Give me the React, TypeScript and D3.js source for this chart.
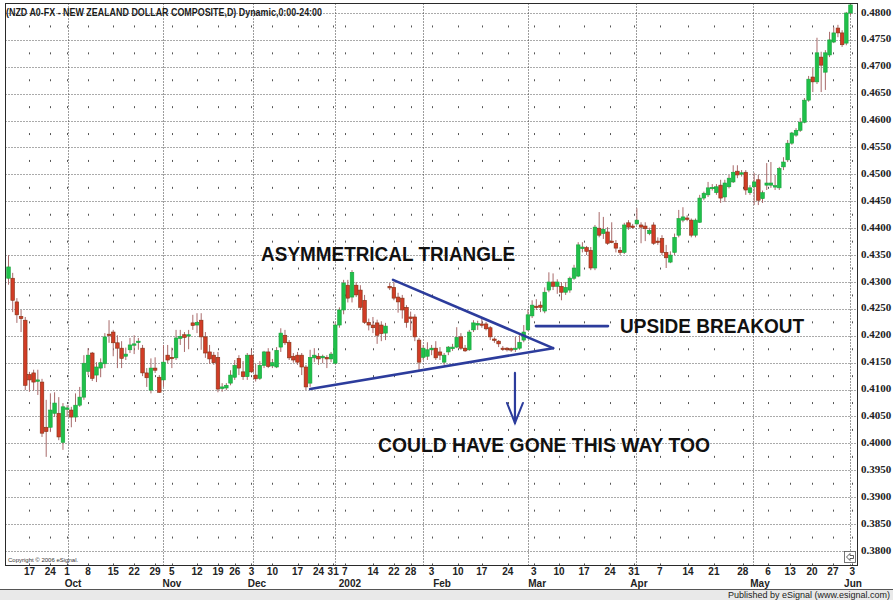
import React from "react";
import * as d3 from "d3";

const W = 893;
const H = 600;
const plot = { left: 5.5, right: 857.5, top: 3.5, bottom: 565.5 };

const chartTitle = "(NZD A0-FX - NEW ZEALAND DOLLAR COMPOSITE,D) Dynamic,0:00-24:00";

// daily bars: [open, high, low, close]
const bars: [number, number, number, number][] = [
  [0.4307, 0.435, 0.4295, 0.4328], [0.4307, 0.4317, 0.4244, 0.4266], [0.4263, 0.427, 0.4224, 0.4239],
  [0.4236, 0.4248, 0.4207, 0.4232], [0.4229, 0.4235, 0.4099, 0.4108], [0.4128, 0.4133, 0.4096, 0.4118],
  [0.4131, 0.4137, 0.4098, 0.4114], [0.4116, 0.4137, 0.409, 0.4118], [0.4114, 0.412, 0.4012, 0.4019],
  [0.403, 0.4081, 0.3975, 0.4022], [0.403, 0.4093, 0.4021, 0.4062], [0.4056, 0.4095, 0.4049, 0.4075],
  [0.4056, 0.4086, 0.4006, 0.4012], [0.4002, 0.4075, 0.3988, 0.4068], [0.4064, 0.4071, 0.4049, 0.4066],
  [0.4062, 0.4068, 0.403, 0.4049], [0.4049, 0.4093, 0.404, 0.4071], [0.4071, 0.4105, 0.4068, 0.4086],
  [0.4086, 0.4164, 0.4081, 0.4149], [0.4134, 0.4177, 0.4127, 0.4164], [0.4168, 0.417, 0.4116, 0.4121],
  [0.4127, 0.4151, 0.4114, 0.4142], [0.414, 0.4158, 0.4123, 0.415], [0.4148, 0.4205, 0.414, 0.4198],
  [0.4203, 0.4229, 0.4187, 0.4201], [0.4207, 0.4211, 0.4162, 0.4187], [0.4187, 0.4201, 0.414, 0.4177],
  [0.4177, 0.419, 0.414, 0.4158], [0.4162, 0.4178, 0.4155, 0.4166], [0.4174, 0.4196, 0.4168, 0.4183],
  [0.4183, 0.4201, 0.4166, 0.4185], [0.4188, 0.4196, 0.4174, 0.419], [0.4177, 0.4183, 0.4125, 0.4131],
  [0.4131, 0.414, 0.4105, 0.4122], [0.4099, 0.4158, 0.4093, 0.414], [0.414, 0.416, 0.4131, 0.4136],
  [0.4123, 0.4127, 0.4094, 0.4095], [0.4118, 0.4183, 0.4105, 0.4151], [0.4164, 0.4183, 0.4149, 0.4155],
  [0.416, 0.4178, 0.414, 0.4158], [0.4159, 0.4211, 0.4155, 0.4196], [0.4195, 0.4211, 0.4183, 0.4199],
  [0.4202, 0.4207, 0.417, 0.4197], [0.42, 0.4211, 0.4175, 0.4202], [0.4224, 0.4239, 0.4211, 0.4219],
  [0.422, 0.4242, 0.4205, 0.4225], [0.4229, 0.4242, 0.4174, 0.4198], [0.4198, 0.4207, 0.4159, 0.4168],
  [0.417, 0.4183, 0.4148, 0.4157], [0.4164, 0.417, 0.4146, 0.415], [0.416, 0.417, 0.4095, 0.4101],
  [0.4102, 0.4112, 0.4096, 0.4105], [0.4103, 0.4112, 0.4099, 0.4108], [0.4112, 0.4136, 0.4108, 0.4127],
  [0.4123, 0.4155, 0.4118, 0.4145], [0.4158, 0.4164, 0.4127, 0.414], [0.4133, 0.4153, 0.4118, 0.4124],
  [0.4124, 0.4168, 0.4118, 0.4164], [0.4164, 0.4174, 0.4131, 0.4133], [0.4127, 0.4148, 0.4115, 0.412],
  [0.4121, 0.4153, 0.4118, 0.4145], [0.4145, 0.4172, 0.414, 0.417], [0.417, 0.4177, 0.414, 0.4143],
  [0.4144, 0.4157, 0.414, 0.415], [0.4142, 0.4179, 0.414, 0.4173], [0.4179, 0.4214, 0.417, 0.4205],
  [0.4201, 0.4211, 0.4183, 0.4187], [0.4188, 0.4192, 0.4155, 0.4159], [0.4162, 0.4168, 0.415, 0.4155],
  [0.4164, 0.417, 0.4146, 0.4151], [0.4164, 0.4168, 0.4127, 0.4142], [0.4142, 0.4146, 0.4099, 0.4105],
  [0.4112, 0.4174, 0.4105, 0.416], [0.4159, 0.4177, 0.4151, 0.4164], [0.4162, 0.4168, 0.4146, 0.4157],
  [0.4159, 0.4165, 0.4149, 0.4162], [0.416, 0.4164, 0.414, 0.4157], [0.4157, 0.417, 0.4151, 0.4166],
  [0.4149, 0.4225, 0.4147, 0.422], [0.422, 0.4253, 0.4215, 0.4248], [0.4248, 0.4304, 0.424, 0.4298],
  [0.4294, 0.4304, 0.4262, 0.427], [0.4272, 0.4322, 0.4262, 0.4318], [0.4294, 0.43, 0.4272, 0.4276],
  [0.4285, 0.4294, 0.4248, 0.4253], [0.4266, 0.4276, 0.4222, 0.4225], [0.4225, 0.4232, 0.421, 0.422],
  [0.422, 0.4235, 0.4205, 0.4215], [0.4224, 0.423, 0.4185, 0.4201], [0.422, 0.4227, 0.419, 0.4204],
  [0.4205, 0.4224, 0.4192, 0.4218], [0.4292, 0.4298, 0.4285, 0.4289], [0.429, 0.43, 0.4266, 0.427],
  [0.4272, 0.428, 0.4243, 0.4263], [0.427, 0.4276, 0.4232, 0.4248], [0.4253, 0.4257, 0.4215, 0.4225],
  [0.4235, 0.4245, 0.421, 0.4232], [0.4235, 0.424, 0.419, 0.4198], [0.4192, 0.4196, 0.4136, 0.4151],
  [0.416, 0.4183, 0.4155, 0.4177], [0.4162, 0.4188, 0.4155, 0.4174], [0.4174, 0.4183, 0.4164, 0.4177],
  [0.4177, 0.419, 0.4155, 0.4159], [0.417, 0.4179, 0.4155, 0.4164], [0.4151, 0.4168, 0.4146, 0.4164],
  [0.417, 0.4181, 0.4164, 0.4179], [0.4176, 0.4185, 0.4172, 0.4179], [0.4179, 0.4216, 0.4177, 0.4197],
  [0.4198, 0.4205, 0.4174, 0.4177], [0.4177, 0.4183, 0.417, 0.4172], [0.4174, 0.4211, 0.4172, 0.4207],
  [0.4211, 0.4229, 0.4207, 0.4224], [0.422, 0.4228, 0.4211, 0.4223], [0.4222, 0.4233, 0.4215, 0.422],
  [0.4222, 0.4226, 0.421, 0.4213], [0.4215, 0.4218, 0.4192, 0.4198], [0.4194, 0.4197, 0.4187, 0.4192],
  [0.419, 0.4192, 0.4179, 0.4185], [0.4177, 0.4181, 0.4172, 0.4175], [0.4177, 0.4179, 0.4171, 0.4174],
  [0.4176, 0.4178, 0.417, 0.4174], [0.4176, 0.4198, 0.417, 0.4177], [0.4177, 0.4201, 0.4174, 0.4188],
  [0.4192, 0.422, 0.4188, 0.4207], [0.4211, 0.4248, 0.4209, 0.4239], [0.4237, 0.4266, 0.4233, 0.4257],
  [0.4255, 0.4268, 0.4248, 0.4254], [0.4257, 0.4264, 0.4244, 0.4253], [0.4246, 0.429, 0.4242, 0.4281],
  [0.4285, 0.4318, 0.4281, 0.43], [0.43, 0.4316, 0.4285, 0.4292], [0.4292, 0.4305, 0.4278, 0.43],
  [0.4292, 0.43, 0.4266, 0.4281], [0.4281, 0.43, 0.4276, 0.429], [0.4285, 0.431, 0.428, 0.4307],
  [0.4307, 0.4332, 0.4304, 0.4326], [0.4311, 0.4374, 0.4309, 0.4369], [0.4362, 0.4374, 0.4355, 0.4365],
  [0.4364, 0.4367, 0.435, 0.4357], [0.4359, 0.4365, 0.4322, 0.4326], [0.4326, 0.4406, 0.4322, 0.4402],
  [0.44, 0.443, 0.4383, 0.4387], [0.439, 0.4421, 0.438, 0.4398], [0.4393, 0.4402, 0.4369, 0.4372],
  [0.4376, 0.4411, 0.4372, 0.4374], [0.4372, 0.4378, 0.4355, 0.4363], [0.4359, 0.4365, 0.435, 0.4355],
  [0.4355, 0.441, 0.4352, 0.4406], [0.441, 0.4415, 0.4397, 0.4402], [0.4404, 0.4408, 0.4399, 0.4402],
  [0.4408, 0.4437, 0.4406, 0.4415], [0.4406, 0.4411, 0.4372, 0.4402], [0.4404, 0.4411, 0.4376, 0.4399],
  [0.439, 0.4401, 0.4387, 0.4396], [0.4406, 0.4411, 0.4369, 0.4372], [0.4376, 0.4383, 0.4369, 0.4374],
  [0.4381, 0.4387, 0.435, 0.4355], [0.4355, 0.4369, 0.4326, 0.4345], [0.4337, 0.4357, 0.4335, 0.435],
  [0.4355, 0.439, 0.435, 0.4383], [0.4387, 0.4434, 0.4383, 0.4418], [0.4415, 0.4439, 0.4411, 0.4421],
  [0.4419, 0.4424, 0.4413, 0.4417], [0.4415, 0.4418, 0.4383, 0.4387], [0.4387, 0.4418, 0.4383, 0.4415],
  [0.4411, 0.4462, 0.441, 0.4456], [0.4456, 0.4468, 0.4452, 0.4465], [0.4462, 0.4486, 0.4458, 0.4475],
  [0.4474, 0.4482, 0.447, 0.4476], [0.4466, 0.4482, 0.4462, 0.4477], [0.448, 0.449, 0.4447, 0.4456],
  [0.4458, 0.449, 0.4449, 0.4484], [0.4477, 0.4499, 0.4474, 0.4493], [0.4486, 0.4517, 0.4484, 0.4504],
  [0.4506, 0.4517, 0.4493, 0.4499], [0.4501, 0.4508, 0.4496, 0.4503], [0.4504, 0.4508, 0.4462, 0.4471],
  [0.4466, 0.448, 0.4462, 0.4475], [0.4477, 0.4503, 0.4443, 0.4486], [0.449, 0.4499, 0.4443, 0.4452],
  [0.4455, 0.447, 0.4447, 0.4466], [0.448, 0.4521, 0.4471, 0.4484], [0.448, 0.4523, 0.4475, 0.4484],
  [0.4477, 0.4499, 0.4471, 0.4479], [0.4475, 0.4514, 0.4471, 0.4511], [0.4514, 0.4532, 0.4508, 0.4523],
  [0.4527, 0.4564, 0.4523, 0.4558], [0.4558, 0.4579, 0.4555, 0.4577], [0.4573, 0.4586, 0.457, 0.4582],
  [0.4582, 0.4605, 0.4579, 0.4597], [0.4597, 0.4642, 0.4595, 0.4638], [0.4638, 0.4683, 0.4635, 0.4677],
  [0.4681, 0.4698, 0.4653, 0.4672], [0.4672, 0.4754, 0.4668, 0.4726], [0.4718, 0.4728, 0.4653, 0.4703],
  [0.469, 0.4731, 0.4657, 0.4726], [0.4722, 0.4765, 0.4718, 0.475], [0.4746, 0.4774, 0.4744, 0.4763],
  [0.4772, 0.4778, 0.4755, 0.4763], [0.4763, 0.4768, 0.4737, 0.4741], [0.4744, 0.4802, 0.474, 0.48],
  [0.48, 0.4818, 0.4796, 0.4815],
];

// first bar of each week: [label, bar index]
const weekTicks: [string, number][] = [
  ["17", 5], ["24", 10], ["1", 14], ["8", 19], ["15", 25], ["22", 30], ["29", 35],
  ["5", 39], ["12", 45], ["19", 50], ["26", 54], ["3", 58], ["10", 63], ["17", 69],
  ["24", 74], ["31", 77.5], ["7", 80.3], ["14", 87], ["22", 92], ["28", 96], ["3", 101],
  ["10", 107.3], ["17", 113], ["24", 119.2], ["3", 125.4], ["10", 131.4], ["17", 137.4],
  ["24", 143.6], ["31", 149.3], ["7", 155.5], ["14", 162.2], ["21", 168.4], ["28", 175.3],
  ["6", 181.3], ["13", 186.6], ["20", 191.8], ["27", 196.8], ["3", 201.4],
];

const monthNames: [string, number][] = [
  ["Oct", 15.4], ["Nov", 39], ["Dec", 59.3], ["2002", 81.5], ["Feb", 103.5],
  ["Mar", 126.2], ["Apr", 150.5], ["May", 179.4], ["Jun", 201.6],
];

// bar index where each month begins
const monthStarts = [14.2, 36.9, 58.4, 77.9, 98.9, 124, 149.8, 177.7, 200.9];

const priceLevels = [
  0.38, 0.385, 0.39, 0.395, 0.4, 0.405, 0.41, 0.415, 0.42, 0.425, 0.43,
  0.435, 0.44, 0.445, 0.45, 0.455, 0.46, 0.465, 0.47, 0.475, 0.48,
];

// hand drawn annotations, in (bar index, price)
const upperTrend: [number, number][] = [[91.8, 0.4304], [130, 0.4177]];
const lowerTrend: [number, number][] = [[72, 0.4101], [130, 0.4177]];
const breakoutMark: [number, number][] = [[125.9, 0.4218], [143.1, 0.4218]];
const downArrow: [number, number][] = [[120.9, 0.4131], [120.9, 0.4038]];
const notes = [
  { text: "ASYMMETRICAL TRIANGLE", bar: 60.3, price: 0.4339, len: 254 },
  { text: "UPSIDE BREAKOUT", bar: 146, price: 0.4206, len: 184 },
  { text: "COULD HAVE GONE THIS WAY TOO", bar: 88.2, price: 0.3984, len: 332 },
];

const BLUE = "#2c3c9c";

export default function App() {
  const x = d3.scaleLinear().domain([0, bars.length - 1]).range([8.5, 850.5]);
  const y = d3.scaleLinear().domain([0.38, 0.48]).range([551, 13]);
  const line = d3.line<[number, number]>().x(d => x(d[0])).y(d => y(d[1]));
  const fmt = d3.format(".4f");

  const half = (y(0.475) - y(0.48)) / 2; // spacing of the sparse week marks
  const firstMark = y(0.48) + half - 1 - plot.top;
  const markOffset = 2 * half - (firstMark % (2 * half));

  const tip = [x(downArrow[1][0]), y(downArrow[1][1])];

  return (
    <svg width={W} height={H} style={{ position: "absolute", left: 0, top: 0, display: "block", background: "#fff" }}>
      <defs>
        <clipPath id="plotClip">
          <rect x={plot.left} y={plot.top} width={plot.right - plot.left} height={plot.bottom - plot.top} />
        </clipPath>
      </defs>

      {/* grid */}
      <g>
        {priceLevels.map(p => (
          <line key={p} x1={plot.left} x2={plot.right} y1={Math.round(y(p)) + 0.5} y2={Math.round(y(p)) + 0.5}
            stroke="#555" strokeDasharray="1 2" />
        ))}
        {weekTicks.map(([, i], k) => (
          <line key={"w" + k} x1={Math.round(x(i)) + 0.5} x2={Math.round(x(i)) + 0.5} y1={plot.top} y2={plot.bottom}
            stroke="#555" strokeDasharray={`2 ${2 * half - 2}`} strokeDashoffset={markOffset} />
        ))}
        {monthStarts.map((i, k) => (
          <line key={"m" + k} x1={Math.round(x(i)) + 0.5} x2={Math.round(x(i)) + 0.5} y1={plot.top} y2={plot.bottom}
            stroke="#3a3a3a" strokeDasharray="1 2" />
        ))}
      </g>

      {/* candles */}
      <g clipPath="url(#plotClip)">
        {bars.map(([o, h, l, c], i) => {
          const up = c >= o;
          const cx = x(i);
          const top = y(Math.max(o, c));
          const bh = Math.max(1.4, Math.abs(y(o) - y(c)));
          return (
            <g key={i}>
              <line x1={cx} x2={cx} y1={y(h)} y2={y(l)} stroke="#a86a6a" strokeWidth={1} />
              <rect x={cx - 1.8} y={top} width={3.6} height={bh}
                fill={up ? "#1fc04a" : "#d13c26"} stroke={up ? "#17a23b" : "#823214"} strokeWidth={0.6} />
            </g>
          );
        })}
      </g>

      {/* annotations */}
      <g stroke={BLUE} strokeWidth={2.6} fill="none" strokeLinecap="round">
        <path d={line(upperTrend) || ""} />
        <path d={line(lowerTrend) || ""} />
        <path d={line(breakoutMark) || ""} />
        <path d={line(downArrow) || ""} strokeWidth={2.2} />
        <path d={`M${tip[0] - 8},${tip[1] - 20}L${tip[0]},${tip[1]}L${tip[0] + 8},${tip[1] - 20}`} strokeWidth={2} />
      </g>
      <g fontFamily="'Liberation Sans', Arial, sans-serif" fontWeight="bold" fontSize={20} fill="#111">
        {notes.map(n => (
          <text key={n.text} x={x(n.bar)} y={y(n.price)} textLength={n.len} lengthAdjust="spacingAndGlyphs">{n.text}</text>
        ))}
      </g>

      {/* frame */}
      <rect x={plot.left} y={plot.top} width={plot.right - plot.left} height={plot.bottom - plot.top}
        fill="none" stroke="#2a2a2a" strokeWidth={1} />

      {/* title + copyright */}
      <text x={6} y={16} fontFamily="'Liberation Sans Narrow', 'Liberation Sans', sans-serif" fontWeight="bold"
        fontSize={10} fill="#1a1a1a" textLength={316} lengthAdjust="spacingAndGlyphs">{chartTitle}</text>
      <text x={8} y={562} fontFamily="'Liberation Sans', sans-serif" fontSize={6} fill="#333">Copyright © 2006 eSignal.</text>
      <g transform={`translate(${plot.right - 13},${plot.bottom - 14})`}>
        <rect x={0} y={0} width={11} height={11} fill="#fff" stroke="#555" strokeWidth={0.8} />
        <path d="M2,5.5 L5.5,2 L5.5,4 L9,4 L9,7 L5.5,7 L5.5,9 Z" fill="none" stroke="#333" strokeWidth={0.8} />
      </g>

      {/* price axis */}
      <g fontFamily="'Liberation Serif', 'Times New Roman', serif" fontWeight="bold" fontSize={11} fill="#222">
        {priceLevels.map(p => (
          <text key={p} x={861} y={y(p)} dominantBaseline="middle">{fmt(p)}</text>
        ))}
      </g>

      {/* date axis */}
      <g fontFamily="'Liberation Sans', Arial, sans-serif" fontWeight="bold" fontSize={10} fill="#222" textAnchor="middle">
        {weekTicks.map(([lab, i], k) => (
          <text key={"t" + k} x={x(i)} y={575}>{lab}</text>
        ))}
        {monthNames.map(([lab, i]) => (
          <text key={lab} x={x(i)} y={587}>{lab}</text>
        ))}
      </g>
      <line x1={0} x2={W} y1={589.5} y2={589.5} stroke="#555" />
      <rect x={0} y={590} width={W} height={10} fill="#e9e9e9" />
      <text x={890} y={598} textAnchor="end" fontFamily="'Liberation Sans', Arial, sans-serif" fontSize={9} fill="#222">
        Published by eSignal (www.esignal.com)
      </text>
    </svg>
  );
}
